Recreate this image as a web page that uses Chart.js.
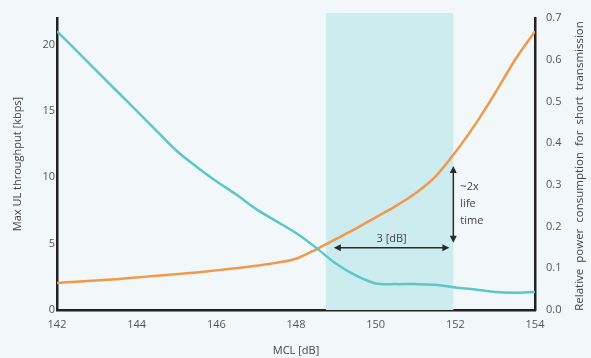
<!DOCTYPE html>
<html>
<head>
<meta charset="utf-8">
<script src="https://cdn.jsdelivr.net/npm/chart.js@4.4.1/dist/chart.umd.min.js"></script>
<style>
  html, body { margin: 0; padding: 0; background: #f2f7fa; }
  #wrap { width: 591px; height: 358px; position: relative; }
</style>
</head>
<body>
<div id="wrap"><canvas id="chart"></canvas></div>
<script>
// MCL [dB] sample points
const mclValues = [142, 142.5, 143, 143.5, 144, 144.5, 145, 145.5, 146, 146.5, 147, 147.5, 148, 148.5, 149, 149.5, 150, 150.5, 151, 151.5, 152, 152.5, 153, 153.5, 154];
// Max UL throughput [kbps] (left axis)
const throughputValues = [21.0, 19.5, 18.0, 16.5, 15.0, 13.5, 12.0, 10.8, 9.7, 8.7, 7.6, 6.7, 5.8, 4.7, 3.5, 2.6, 2.0, 1.95, 1.95, 1.9, 1.7, 1.55, 1.35, 1.3, 1.35];
// Relative power consumption (right axis)
const powerValues = [0.065, 0.068, 0.071, 0.074, 0.078, 0.082, 0.086, 0.090, 0.095, 0.100, 0.106, 0.113, 0.123, 0.145, 0.170, 0.195, 0.222, 0.249, 0.280, 0.320, 0.378, 0.445, 0.520, 0.600, 0.668];

const xTicks = [142, 144, 146, 148, 150, 152, 154];
const leftTicks = [0, 5, 10, 15, 20];
const rightTicks = [0, 0.1, 0.2, 0.3, 0.4, 0.5, 0.6, 0.7];
const rightTitle = 'Relative power consumption for short transmission';

// highlighted MCL range and annotation values
const shadeRange = [148.75, 151.95];
const dbArrow = { from: 148.95, to: 151.85, level: 0.149, label: '3 [dB]' };
const lifeArrow = { at: 151.95, from: 0.345, to: 0.161, label: ['~2x', 'life', 'time'] };

const teal = '#5cc6c9';
const orange = '#f0994a';
const fontFamily = '"Open Sans", "Noto Sans", sans-serif';

function toPoints(xs, ys) {
  return xs.map((x, i) => ({ x: x, y: ys[i] }));
}

function arrowHead(ctx, x, y, angle) {
  const len = 7, half = 3.5;
  ctx.save();
  ctx.translate(x, y);
  ctx.rotate(angle);
  ctx.beginPath();
  ctx.moveTo(0, 0);
  ctx.lineTo(-len, -half);
  ctx.lineTo(-len, half);
  ctx.closePath();
  ctx.fill();
  ctx.restore();
}

const backgroundPlugin = {
  id: 'bg',
  beforeDraw(chart) {
    const ctx = chart.ctx;
    ctx.save();
    ctx.fillStyle = '#f2f7fa';
    ctx.fillRect(0, 0, chart.width, chart.height);
    ctx.restore();
  }
};

const shadePlugin = {
  id: 'shade',
  beforeDatasetsDraw(chart) {
    const { ctx, chartArea, scales } = chart;
    const x0 = scales.x.getPixelForValue(shadeRange[0]);
    const x1 = scales.x.getPixelForValue(shadeRange[1]);
    ctx.save();
    ctx.fillStyle = '#cdecef';
    ctx.fillRect(x0, chartArea.top - 5, x1 - x0, chartArea.bottom - chartArea.top + 5);
    ctx.restore();
  }
};

const annotationPlugin = {
  id: 'notes',
  afterDatasetsDraw(chart) {
    const { ctx, scales, chartArea } = chart;
    ctx.save();
    ctx.strokeStyle = '#2b2b2b';
    ctx.fillStyle = '#2b2b2b';
    ctx.lineWidth = 1.5;

    // horizontal 3 dB arrow
    const hx0 = scales.x.getPixelForValue(dbArrow.from);
    const hx1 = scales.x.getPixelForValue(dbArrow.to);
    const hy = scales.y2.getPixelForValue(dbArrow.level);
    ctx.beginPath();
    ctx.moveTo(hx0 + 3, hy);
    ctx.lineTo(hx1 - 3, hy);
    ctx.stroke();
    arrowHead(ctx, hx0, hy, Math.PI);
    arrowHead(ctx, hx1, hy, 0);

    // vertical lifetime arrow
    const vx = scales.x.getPixelForValue(lifeArrow.at);
    const vy0 = scales.y2.getPixelForValue(lifeArrow.from);
    const vy1 = scales.y2.getPixelForValue(lifeArrow.to);
    ctx.beginPath();
    ctx.moveTo(vx, vy0 + 3);
    ctx.lineTo(vx, vy1 - 3);
    ctx.stroke();
    arrowHead(ctx, vx, vy0, -Math.PI / 2);
    arrowHead(ctx, vx, vy1, Math.PI / 2);

    ctx.fillStyle = '#444';
    ctx.font = '11px ' + fontFamily;
    ctx.textAlign = 'center';
    ctx.textBaseline = 'bottom';
    ctx.fillText(dbArrow.label, (hx0 + hx1) / 2, hy - 3);

    ctx.textAlign = 'left';
    ctx.textBaseline = 'middle';
    lifeArrow.label.forEach((t, i) => {
      ctx.fillText(t, vx + 7, vy0 + 21 + i * 17);
    });

    // right axis title, reading bottom to top
    ctx.save();
    ctx.translate(chart.width - 11, (chartArea.top + chartArea.bottom) / 2 + 2);
    ctx.rotate(-Math.PI / 2);
    ctx.font = '11.5px ' + fontFamily;
    ctx.wordSpacing = '3px';
    ctx.textAlign = 'center';
    ctx.textBaseline = 'middle';
    ctx.fillText(rightTitle, 0, 0);
    ctx.restore();

    ctx.restore();
  }
};

const ctx = document.getElementById('chart').getContext('2d');
new Chart(ctx, {
  type: 'line',
  data: {
    datasets: [
      {
        label: 'Max UL throughput',
        data: toPoints(mclValues, throughputValues),
        borderColor: teal,
        borderWidth: 2.5,
        pointRadius: 0,
        tension: 0.3,
        yAxisID: 'y'
      },
      {
        label: 'Relative power consumption',
        data: toPoints(mclValues, powerValues),
        borderColor: orange,
        borderWidth: 2.5,
        pointRadius: 0,
        tension: 0.3,
        yAxisID: 'y2'
      }
    ]
  },
  options: {
    responsive: true,
    maintainAspectRatio: false,
    animation: false,
    layout: { padding: { top: 18, left: 0, right: 0, bottom: 0 } },
    plugins: {
      legend: { display: false },
      tooltip: { enabled: false }
    },
    scales: {
      x: {
        type: 'linear',
        min: 142,
        max: 154,
        afterBuildTicks: axis => { axis.ticks = xTicks.map(v => ({ value: v })); },
        afterFit: scale => { scale.height = 48; },
        grid: { display: false, drawTicks: false },
        border: { display: true, color: '#222', width: 2.5 },
        ticks: { color: '#555', font: { size: 11, family: fontFamily }, padding: 8 },
        title: {
          display: true,
          text: 'MCL [dB]',
          color: '#444',
          font: { size: 11, family: fontFamily },
          padding: { top: 0, bottom: 1 }
        }
      },
      y: {
        position: 'left',
        min: 0,
        max: 22,
        afterBuildTicks: axis => { axis.ticks = leftTicks.map(v => ({ value: v })); },
        afterFit: scale => { scale.width = 57; },
        grid: { display: false, drawTicks: false },
        border: { display: true, color: '#222', width: 2.5 },
        ticks: { color: '#555', font: { size: 11, family: fontFamily }, padding: 2 },
        title: {
          display: true,
          text: 'Max UL throughput [kbps]',
          color: '#444',
          font: { size: 11, family: fontFamily },
          padding: { top: 11, bottom: 0 }
        }
      },
      y2: {
        position: 'right',
        min: 0,
        max: 0.7,
        afterBuildTicks: axis => { axis.ticks = rightTicks.map(v => ({ value: v })); },
        afterFit: scale => { scale.width = 56; },
        grid: { display: false, drawTicks: false },
        border: { display: true, color: '#222', width: 2.5 },
        ticks: {
          color: '#555',
          font: { size: 11, family: fontFamily },
          padding: 11,
          callback: v => v.toFixed(1)
        },
        title: { display: false }
      }
    }
  },
  plugins: [backgroundPlugin, shadePlugin, annotationPlugin]
});
</script>
</body>
</html>
